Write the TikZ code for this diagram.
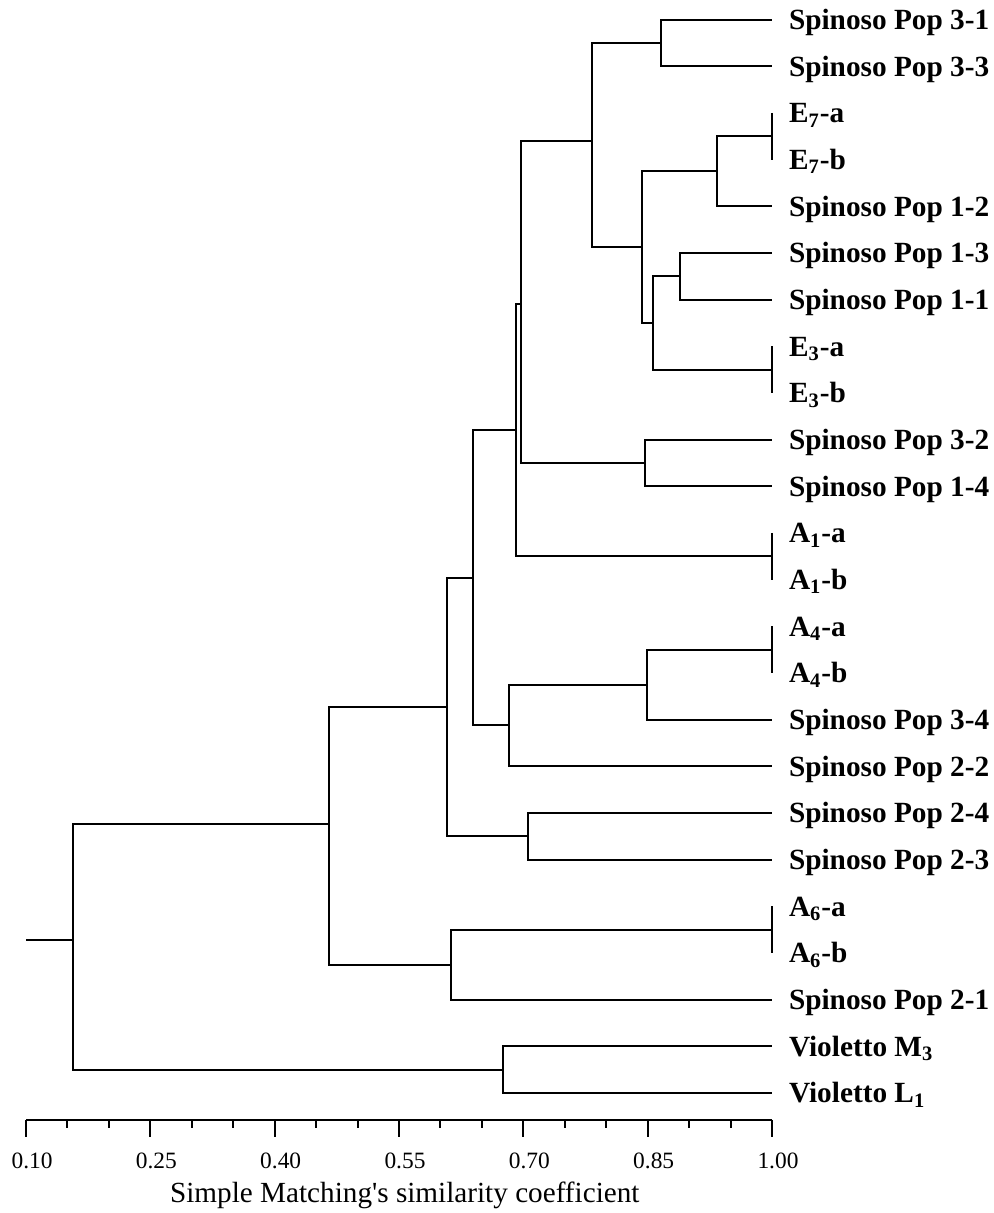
\documentclass[tikz,border=0pt]{standalone}
\usepackage{fontspec}
\setmainfont{Liberation Serif}

\begin{document}
\begin{tikzpicture}[x=414.45pt,y=-23.335pt,line width=1pt]
  \tikzset{leaf/.style={anchor=base west,inner sep=0pt,xshift=8pt,yshift=-5pt,
      font=\fontsize{14.65}{17}\selectfont\bfseries},
    elbow/.style={to path={|- (\tikztotarget)}},
    ticklabel/.style={anchor=base,inner sep=0pt,font=\fontsize{11.7}{14}\selectfont},
    axistitle/.style={anchor=base,inner sep=0pt,font=\fontsize{14.6}{17}\selectfont}}
  \useasboundingbox (0.0686,-0.418) rectangle (1.2678,25.574);

  % leaves (similarity 1.00)
  \coordinate (t0) at (1,0);   \node[leaf] (n0) at (t0) {Spinoso Pop 3-1};
  \coordinate (t1) at (1,1);   \node[leaf] (n1) at (t1) {Spinoso Pop 3-3};
  \coordinate (t2) at (1,2);   \node[leaf] (n2) at (t2) {E\textsubscript{7}-a};
  \coordinate (t3) at (1,3);   \node[leaf] (n3) at (t3) {E\textsubscript{7}-b};
  \coordinate (t4) at (1,4);   \node[leaf] (n4) at (t4) {Spinoso Pop 1-2};
  \coordinate (t5) at (1,5);   \node[leaf] (n5) at (t5) {Spinoso Pop 1-3};
  \coordinate (t6) at (1,6);   \node[leaf] (n6) at (t6) {Spinoso Pop 1-1};
  \coordinate (t7) at (1,7);   \node[leaf] (n7) at (t7) {E\textsubscript{3}-a};
  \coordinate (t8) at (1,8);   \node[leaf] (n8) at (t8) {E\textsubscript{3}-b};
  \coordinate (t9) at (1,9);   \node[leaf] (n9) at (t9) {Spinoso Pop 3-2};
  \coordinate (t10) at (1,10); \node[leaf] (n10) at (t10) {Spinoso Pop 1-4};
  \coordinate (t11) at (1,11); \node[leaf] (n11) at (t11) {A\textsubscript{1}-a};
  \coordinate (t12) at (1,12); \node[leaf] (n12) at (t12) {A\textsubscript{1}-b};
  \coordinate (t13) at (1,13); \node[leaf] (n13) at (t13) {A\textsubscript{4}-a};
  \coordinate (t14) at (1,14); \node[leaf] (n14) at (t14) {A\textsubscript{4}-b};
  \coordinate (t15) at (1,15); \node[leaf] (n15) at (t15) {Spinoso Pop 3-4};
  \coordinate (t16) at (1,16); \node[leaf] (n16) at (t16) {Spinoso Pop 2-2};
  \coordinate (t17) at (1,17); \node[leaf] (n17) at (t17) {Spinoso Pop 2-4};
  \coordinate (t18) at (1,18); \node[leaf] (n18) at (t18) {Spinoso Pop 2-3};
  \coordinate (t19) at (1,19); \node[leaf] (n19) at (t19) {A\textsubscript{6}-a};
  \coordinate (t20) at (1,20); \node[leaf] (n20) at (t20) {A\textsubscript{6}-b};
  \coordinate (t21) at (1,21); \node[leaf] (n21) at (t21) {Spinoso Pop 2-1};
  \coordinate (t22) at (1,22); \node[leaf] (n22) at (t22) {Violetto M\textsubscript{3}};
  \coordinate (t23) at (1,23); \node[leaf] (n23) at (t23) {Violetto L\textsubscript{1}};

  % identical pairs
  \coordinate (e7) at (1,2.5);
  \coordinate (e3) at (1,7.5);
  \coordinate (a1) at (1,11.5);
  \coordinate (a4) at (1,13.5);
  \coordinate (a6) at (1,19.5);
  \draw (t2) -- (t3);
  \draw (t7) -- (t8);
  \draw (t11) -- (t12);
  \draw (t13) -- (t14);
  \draw (t19) -- (t20);

  % cluster joins
  \coordinate (stem) at (0.1,19.72);
  \coordinate (root) at (0.157,19.72);
  \coordinate (A) at (0.4655,17.24);
  \coordinate (B) at (0.608,14.73);
  \coordinate (C) at (0.639,11.96);
  \coordinate (D) at (0.691,8.8);
  \coordinate (E) at (0.697,6.09);
  \coordinate (F) at (0.783,2.6);
  \coordinate (G) at (0.866,0.5);
  \coordinate (H) at (0.843,4.875);
  \coordinate (I) at (0.934,3.25);
  \coordinate (J) at (0.856,6.5);
  \coordinate (K) at (0.889,5.5);
  \coordinate (L) at (0.847,9.5);
  \coordinate (M) at (0.683,15.125);
  \coordinate (N) at (0.849,14.25);
  \coordinate (O) at (0.706,17.5);
  \coordinate (P) at (0.613,20.25);
  \coordinate (Q) at (0.675,22.5);

  \draw (stem) -- (root);
  \path (root) edge[elbow] (A) edge[elbow] (Q);
  \path (A) edge[elbow] (B) edge[elbow] (P);
  \path (B) edge[elbow] (C) edge[elbow] (O);
  \path (C) edge[elbow] (D) edge[elbow] (M);
  \path (D) edge[elbow] (E) edge[elbow] (a1);
  \path (E) edge[elbow] (F) edge[elbow] (L);
  \path (F) edge[elbow] (G) edge[elbow] (H);
  \path (G) edge[elbow] (t0) edge[elbow] (t1);
  \path (H) edge[elbow] (I) edge[elbow] (J);
  \path (I) edge[elbow] (e7) edge[elbow] (t4);
  \path (J) edge[elbow] (K) edge[elbow] (e3);
  \path (K) edge[elbow] (t5) edge[elbow] (t6);
  \path (L) edge[elbow] (t9) edge[elbow] (t10);
  \path (M) edge[elbow] (N) edge[elbow] (t16);
  \path (N) edge[elbow] (a4) edge[elbow] (t15);
  \path (O) edge[elbow] (t17) edge[elbow] (t18);
  \path (P) edge[elbow] (a6) edge[elbow] (t21);
  \path (Q) edge[elbow] (t22) edge[elbow] (t23);

  % similarity axis
  \coordinate (ax0) at (0.1,23.58);
  \coordinate (ax1) at (1,23.58);
  \draw (ax0) -- (ax1);
  \foreach \v in {0.15,0.20,0.30,0.35,0.45,0.50,0.60,0.65,0.75,0.80,0.90,0.95}
    \draw (\v,23.58) -- ++(0,-4pt);
  \foreach \v [count=\j] in {0.10,0.25,0.40,0.55,0.70,0.85,1.00} {
    \draw (\v,23.58) -- ++(0,-8.5pt);
    \node[ticklabel] (tl\j) at ([xshift=3pt,yshift=-24.5pt]\v,23.58) {\v};
  }
  \node[axistitle] (xlabel) at ([yshift=-41.5pt]0.557,23.58) {Simple Matching\textquotesingle s similarity coefficient};
\end{tikzpicture}
\end{document}
